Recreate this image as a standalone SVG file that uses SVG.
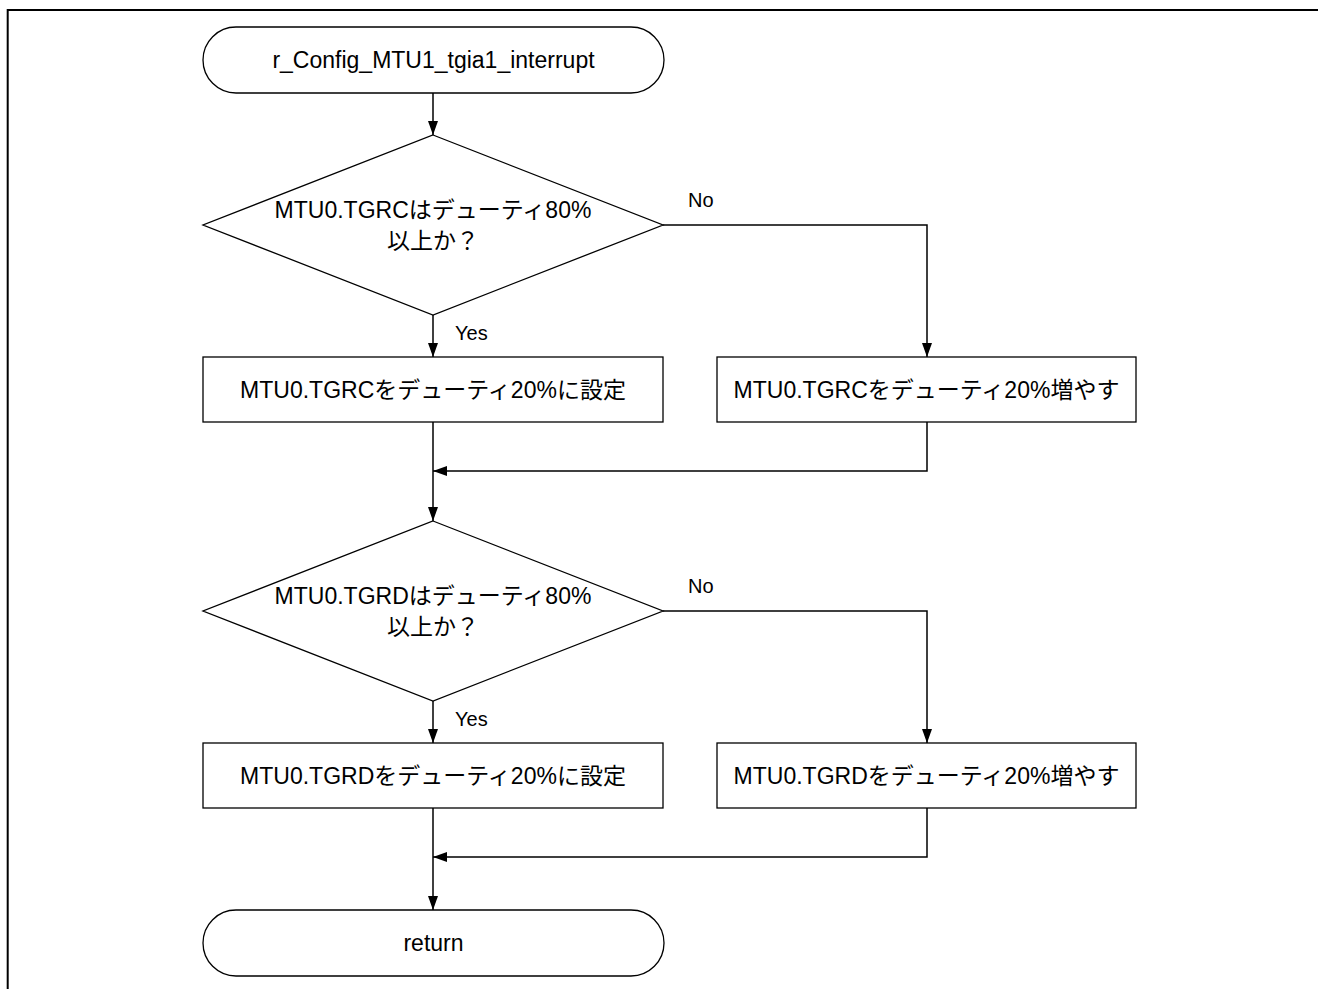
<svg xmlns="http://www.w3.org/2000/svg" width="1318" height="989" viewBox="0 0 1318 989">
<style>
.shape{fill:#fff;stroke:#000;stroke-width:1.3}
.txt{font-family:"Liberation Sans","Noto Sans CJK JP",sans-serif;font-size:23px;fill:#000;text-anchor:middle}
.lbl{font-family:"Liberation Sans",sans-serif;font-size:20px;fill:#000}
.con{fill:none;stroke:#000;stroke-width:1.5}
</style>
<defs>
<marker id="arr" viewBox="0 0 14 10" refX="14" refY="5" markerWidth="14" markerHeight="10" markerUnits="userSpaceOnUse" orient="auto">
<path d="M0,0 L14,5 L0,10 Z" fill="#000"/>
</marker>
</defs>
<rect width="1318" height="989" fill="#fff"/>
<path d="M7.7,989 V10 H1318" fill="none" stroke="#000" stroke-width="2"/>
<g id="connectors">
<path class="con" d="M433,93 V135" marker-end="url(#arr)"/>
<path class="con" d="M433,315 V357" marker-end="url(#arr)"/>
<path class="con" d="M663,225 H927 V357" marker-end="url(#arr)"/>
<path class="con" d="M433,422 V521" marker-end="url(#arr)"/>
<path class="con" d="M927,422 V471 H433" marker-end="url(#arr)"/>
<path class="con" d="M433,701 V743" marker-end="url(#arr)"/>
<path class="con" d="M663,611 H927 V743" marker-end="url(#arr)"/>
<path class="con" d="M433,808 V910" marker-end="url(#arr)"/>
<path class="con" d="M927,808 V857 H433" marker-end="url(#arr)"/>
<text class="lbl" x="688" y="207">No</text>
<text class="lbl" x="455" y="340">Yes</text>
<text class="lbl" x="688" y="593">No</text>
<text class="lbl" x="455" y="726">Yes</text>
</g>
<g id="start">
<rect class="shape" x="203" y="27" width="461" height="66" rx="33" ry="33"/>
<text class="txt" x="433.5" y="68">r_Config_MTU1_tgia1_interrupt</text>
</g>
<g id="dec1">
<polygon class="shape" points="433,135 663,225 433,315 203,225"/>
<text class="txt" x="433" y="218">MTU0.TGRCはデューティ80%</text>
<text class="txt" x="433" y="249">以上か？</text>
</g>
<g id="set1">
<rect class="shape" x="203" y="357" width="460" height="65"/>
<text class="txt" x="433" y="398">MTU0.TGRCをデューティ20%に設定</text>
</g>
<g id="inc1">
<rect class="shape" x="717" y="357" width="419" height="65"/>
<text class="txt" x="926.5" y="398">MTU0.TGRCをデューティ20%増やす</text>
</g>
<g id="dec2">
<polygon class="shape" points="433,521 663,611 433,701 203,611"/>
<text class="txt" x="433" y="604">MTU0.TGRDはデューティ80%</text>
<text class="txt" x="433" y="635">以上か？</text>
</g>
<g id="set2">
<rect class="shape" x="203" y="743" width="460" height="65"/>
<text class="txt" x="433" y="784">MTU0.TGRDをデューティ20%に設定</text>
</g>
<g id="inc2">
<rect class="shape" x="717" y="743" width="419" height="65"/>
<text class="txt" x="926.5" y="784">MTU0.TGRDをデューティ20%増やす</text>
</g>
<g id="end">
<rect class="shape" x="203" y="910" width="461" height="66" rx="33" ry="33"/>
<text class="txt" x="433.5" y="951">return</text>
</g>
</svg>
